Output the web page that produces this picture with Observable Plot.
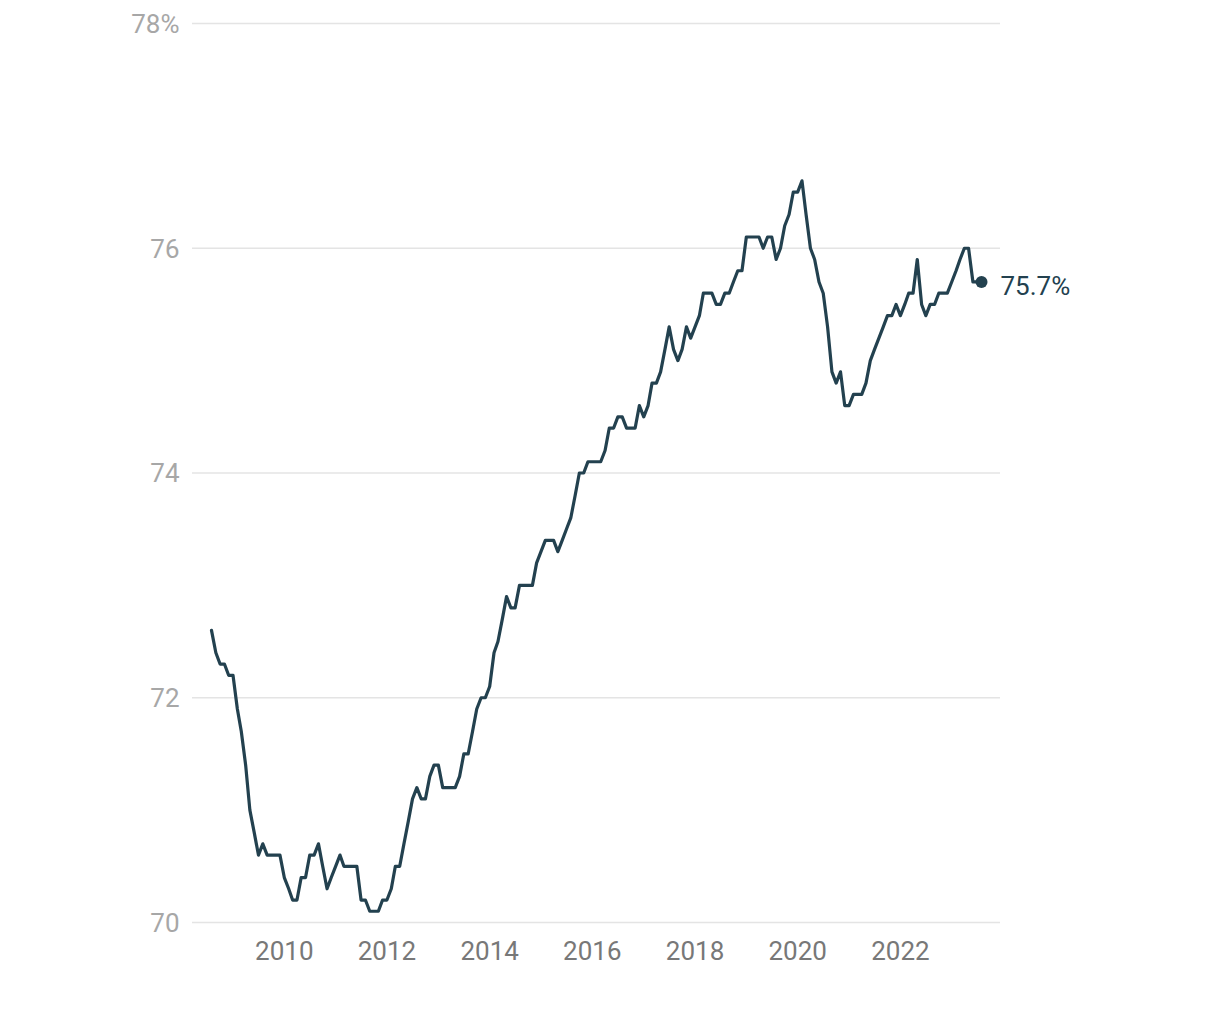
<!DOCTYPE html>
<html><head><meta charset="utf-8">
<script src="https://cdn.jsdelivr.net/npm/d3@7"></script>
<script src="https://cdn.jsdelivr.net/npm/@observablehq/plot@0.6"></script>
<style>
html,body{margin:0;padding:0;background:#fff;}
#chart svg{display:block;}
</style></head><body><div id="chart"></div>
<script>
// Monthly values, first month below
const firstMonth = "2008-08-01";
const rates = [
  72.6, 72.4, 72.3, 72.3, 72.2,
  72.2, 71.9, 71.7, 71.4, 71.0, 70.8, 70.6, 70.7, 70.6, 70.6, 70.6, 70.6,
  70.4, 70.3, 70.2, 70.2, 70.4, 70.4, 70.6, 70.6, 70.7, 70.5, 70.3, 70.4,
  70.5, 70.6, 70.5, 70.5, 70.5, 70.5, 70.2, 70.2, 70.1, 70.1, 70.1, 70.2,
  70.2, 70.3, 70.5, 70.5, 70.7, 70.9, 71.1, 71.2, 71.1, 71.1, 71.3, 71.4,
  71.4, 71.2, 71.2, 71.2, 71.2, 71.3, 71.5, 71.5, 71.7, 71.9, 72.0, 72.0,
  72.1, 72.4, 72.5, 72.7, 72.9, 72.8, 72.8, 73.0, 73.0, 73.0, 73.0, 73.2,
  73.3, 73.4, 73.4, 73.4, 73.3, 73.4, 73.5, 73.6, 73.8, 74.0, 74.0, 74.1,
  74.1, 74.1, 74.1, 74.2, 74.4, 74.4, 74.5, 74.5, 74.4, 74.4, 74.4, 74.6,
  74.5, 74.6, 74.8, 74.8, 74.9, 75.1, 75.3, 75.1, 75.0, 75.1, 75.3, 75.2,
  75.3, 75.4, 75.6, 75.6, 75.6, 75.5, 75.5, 75.6, 75.6, 75.7, 75.8, 75.8,
  76.1, 76.1, 76.1, 76.1, 76.0, 76.1, 76.1, 75.9, 76.0, 76.2, 76.3, 76.5,
  76.5, 76.6, 76.3, 76.0, 75.9, 75.7, 75.6, 75.3, 74.9, 74.8, 74.9, 74.6,
  74.6, 74.7, 74.7, 74.7, 74.8, 75.0, 75.1, 75.2, 75.3, 75.4, 75.4, 75.5,
  75.4, 75.5, 75.6, 75.6, 75.9, 75.5, 75.4, 75.5, 75.5, 75.6, 75.6, 75.6,
  75.7, 75.8, 75.9, 76.0, 76.0, 75.7, 75.7, 75.7
];
const yTicks = [70, 72, 74, 76, 78];
const xTickYears = [2010, 2012, 2014, 2016, 2018, 2020, 2022];

const start = new Date(firstMonth + "T00:00:00Z");
const data = rates.map((v, i) => ({date: d3.utcMonth.offset(start, i), value: v}));
const last = data[data.length - 1];
const ink = "#23414f";

const chart = Plot.plot({
  width: 1220,
  height: 1020,
  marginTop: 23,
  marginBottom: 98,
  marginLeft: 192,
  marginRight: 220,
  insetLeft: 19,
  insetRight: 19,
  style: {fontFamily: "Roboto, sans-serif", fontSize: "26px", background: "#fff"},
  x: {type: "utc", label: null},
  y: {domain: [70, 78], label: null},
  marks: [
    Plot.ruleY(yTicks, {stroke: "#e4e4e4", strokeWidth: 1.5}),
    Plot.axisY({
      ticks: yTicks,
      tickFormat: d => d === 78 ? "78%" : String(d),
      tickSize: 0,
      tickPadding: 13,
      dy: 1,
      color: "#a7a7a7",
      fontSize: 26,
      label: null
    }),
    Plot.axisX({
      ticks: xTickYears.map(y => new Date(Date.UTC(y, 0, 1))),
      tickFormat: d3.utcFormat("%Y"),
      tickSize: 0,
      tickPadding: 19,
      color: "#787878",
      fontSize: 26,
      label: null
    }),
    Plot.lineY(data, {x: "date", y: "value", stroke: ink, strokeWidth: 3.2, strokeLinejoin: "round"}),
    Plot.dot([last], {x: "date", y: "value", r: 6, fill: ink, stroke: "none"}),
    Plot.text([last], {
      x: "date", y: "value",
      text: d => d.value.toFixed(1) + "%",
      dx: 19, dy: 5,
      textAnchor: "start",
      fill: ink,
      fontSize: 26
    })
  ]
});
document.getElementById("chart").appendChild(chart);
</script>
</body></html>
